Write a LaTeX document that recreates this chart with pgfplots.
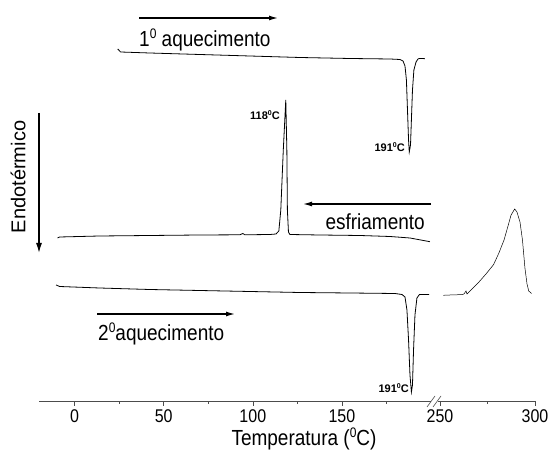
\documentclass[border=0pt]{standalone}
\usepackage{fontspec}
\setmainfont{Liberation Sans}
\usepackage{pgfplots}
\pgfplotsset{compat=1.18}
\usetikzlibrary{arrows.meta}
\newcommand{\tall}[1]{\scalebox{1}[1.15]{#1}}
\newcommand{\supz}[1]{\raisebox{0.36em}{\fontsize{12}{12}\selectfont #1}}
\newcommand{\ssupz}[1]{\raisebox{0.36em}{\fontsize{7}{7}\selectfont #1}}
\pgfplotsset{
  dscaxis/.style={
    scale only axis, height=401pt,
    ymin=0, ymax=401,
    axis x line=bottom, axis y line=none,
    x axis line style={-, black!70, line width=0.6pt},
    tick style={black!70, line width=0.6pt},
    major tick length=5pt, minor tick length=3pt,
    tick align=outside,
    /pgf/number format/assume math mode=true,
    xticklabel style={font=\fontsize{16}{18}\selectfont},
    xticklabel={\tall{\pgfmathprintnumber{\tick}}},
    clip=false,
  },
  curve/.style={black, line width=0.8pt},
}
\begin{document}
\begin{tikzpicture}
\useasboundingbox (0,0) rectangle (551pt,454pt);
% left part of the broken axis
\begin{axis}[dscaxis, width=392pt, at={(39pt,53pt)}, anchor=south west,
  xmin=-20, xmax=200, xtick={0,50,100,150}, minor xtick={25,75,125,175}]
% 1st heating
\addplot[curve] coordinates {(24.2,352)(25.8,349)(42.1,348)(70.2,346.5)(98.3,345)(126.4,343.5)(154.5,342.5)(177,342)(182.6,341.5)(184.3,340)(185.4,335)(186.2,321)(186.8,291)(187.4,261)(187.8,249)(188.5,256)(189,281)(189.6,311)(190.4,331)(191.6,339)(192.7,342)(193.5,342.5)(195,342.5)(196.6,342.3)};
% cooling
\addplot[curve] coordinates {(-9.6,163)(-8.4,164)(14,165)(42.1,165.5)(70.2,166)(92.7,166.2)(94.4,167.5)(95.5,166.2)(109.6,166.5)(113,167)(114.6,170)(115.7,191)(117.1,251)(118.5,301)(119.1,251)(119.4,191)(120,169)(120.8,166.5)(137.6,166)(160.1,165.5)(177,164.5)(188.2,163)(199.4,159.3)};
% 2nd heating
\addplot[curve] coordinates {(-10.4,116)(-8.4,114.5)(14,113)(42.1,111.5)(70.2,110.5)(98.3,109.5)(126.4,108.5)(154.5,108)(179.8,107.5)(183.7,106.5)(185.4,104)(186.5,91)(187.4,61)(188.2,26)(189,9)(189.6,16)(190.2,51)(191,86)(192.1,103)(193.5,106.5)(196.1,106.5)(198.9,106.5)};
\end{axis}
% right part of the broken axis
\begin{axis}[dscaxis, width=97pt, at={(438pt,53pt)}, anchor=south west,
  xmin=248.95, xmax=300, xtick={250,300}, minor xtick={275}]
\addplot[black, line width=0.5pt] coordinates {(251.8,105.7)(255.3,106)(261.5,106.4)(262.6,107)(263.7,110)(264.2,107)(266.8,112)(270.5,119)(274.2,127)(278.2,136.4)(281,148)(283.7,161)(285.8,175)(287.4,186)(289.3,192)(290.5,189)(292.1,179)(293.4,161)(294.7,133)(295.8,117)(296.7,110)(298.2,107.5)};
\end{axis}
% annotations (pixel-like frame, y downwards)
\begin{scope}[shift={(0pt,454pt)}, x=1pt, y=-1pt]
\draw[black!70, line width=0.6pt] (427,407) -- (435,396);
\draw[black!70, line width=0.6pt] (433,407) -- (441,396);
\draw[line width=1.3pt, -{Latex[length=9pt,width=5pt]}] (139,18) -- (278,18);
\draw[line width=1.3pt, -{Latex[length=9pt,width=5pt]}] (431,204) -- (303,204);
\draw[line width=1.3pt, -{Latex[length=9pt,width=5pt]}] (97,314) -- (235,314);
\draw[line width=1.3pt, -{Latex[length=10pt,width=6pt]}] (39,113) -- (39,253);
\node[anchor=west, inner sep=0, font=\fontsize{19}{22}\selectfont] at (139,40) {\tall{1\supz{0} aquecimento}};
\node[anchor=east, inner sep=0, font=\fontsize{19}{22}\selectfont] at (425,222) {\tall{esfriamento}};
\node[anchor=west, inner sep=0, font=\fontsize{19}{22}\selectfont] at (98,334) {\tall{2\supz{0}aquecimento}};
\node[inner sep=0, font=\fontsize{19}{22}\selectfont] at (304,439) {\tall{Temperatura (\supz{0}C)}};
\node[inner sep=0, rotate=90, font=\fontsize{20}{22}\selectfont] at (18,177) {Endotérmico};
\node[anchor=east, inner sep=0, font=\bfseries\fontsize{11}{13}\selectfont] at (280,115) {118\ssupz{0}C};
\node[anchor=east, inner sep=0, font=\bfseries\fontsize{11}{13}\selectfont] at (405,147) {191\ssupz{0}C};
\node[anchor=east, inner sep=0, font=\bfseries\fontsize{11}{13}\selectfont] at (409,388) {191\ssupz{0}C};
\end{scope}
\end{tikzpicture}
\end{document}
